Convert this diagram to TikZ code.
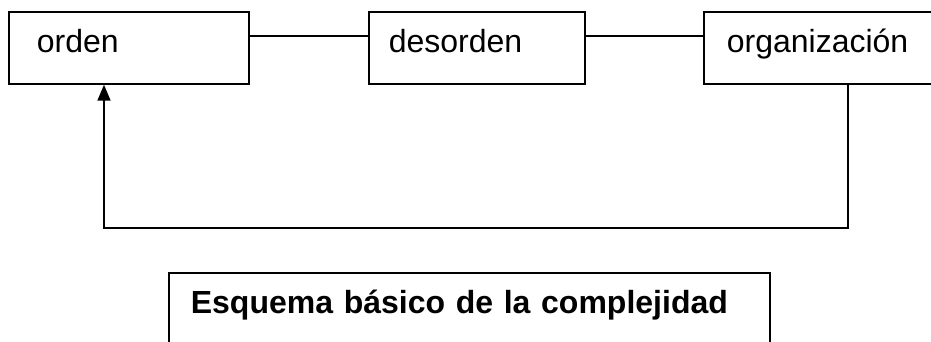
\documentclass[tikz,border=0pt]{standalone}
\usepackage{fontspec}
\setmainfont{Liberation Sans}
\usetikzlibrary{arrows.meta}
\begin{document}
\begin{tikzpicture}[x=1pt,y=-1pt,
  box/.style={draw, line width=1.7pt, rectangle, anchor=north west, inner ysep=0pt,
    text height=41pt, text depth=31pt, align=left, font=\fontsize{32}{38}\selectfont},
  link/.style={line width=1.7pt},
  arrowlink/.style={line width=1.7pt, -{Triangle[width=13pt,length=16pt]}}]
\useasboundingbox (0,0) rectangle (931,341);
\clip (0,0) rectangle (931,341);
\fill[white] (0,0) rectangle (931,341);
\node[box, inner xsep=28pt, text width=184pt] (o) at (8,11) {orden};
\node[box, inner xsep=20pt, text width=176pt] (d) at (368,11) {desorden};
\node[box, inner xsep=23pt, text width=214pt] (g) at (703,11) {organización};
\node[box, inner xsep=22pt, text width=557pt, text depth=59pt, font=\fontsize{32}{38}\selectfont\bfseries] (t) at (168,272) {Esquema básico de la complejidad};
\draw[link] ([yshift=12pt]o.east) -- ([yshift=12pt]d.west);
\draw[link] ([yshift=12pt]d.east) -- ([yshift=12pt]g.west);
\coordinate (c2) at (104,228);
\draw[arrowlink] ([xshift=145pt]g.south west) |- (c2) -- ([xshift=96pt]o.south west);
\end{tikzpicture}
\end{document}
